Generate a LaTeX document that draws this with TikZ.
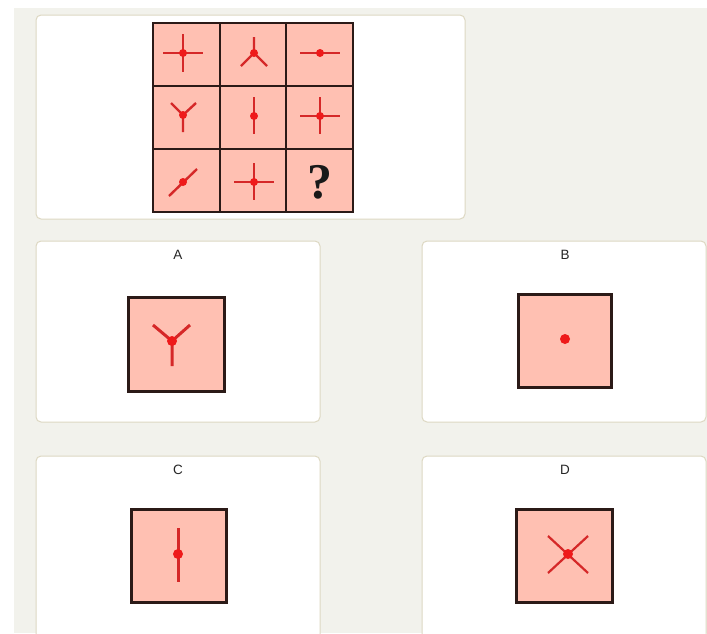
\documentclass[tikz,border=0pt]{standalone}
\usepackage{fontspec}
\setmainfont{Liberation Sans}
\newfontfamily\qfont{Liberation Serif}
\definecolor{bggray}{HTML}{F2F2EC}
\definecolor{panelborder}{HTML}{DDD8C2}
\definecolor{cellfill}{HTML}{FFC0B2}
\definecolor{symred}{HTML}{D52828}
\definecolor{dotred}{HTML}{EE1A1A}
\definecolor{gridline}{HTML}{2B1A17}
\tikzset{
 panel/.style={draw=panelborder, fill=white, rounded corners=5pt, line width=1pt},
 cellbox/.style={draw=gridline, fill=cellfill, line width=1.8pt},
 optbox/.style={draw=gridline, fill=cellfill, line width=3pt},
 arm/.style={draw=symred, line width=2.4pt},
 optarm/.style={draw=symred, line width=3pt},
 thinoptarm/.style={draw=symred, line width=2.2pt},
 dotsm/.style={circle, fill=dotred, inner sep=0pt, minimum size=8pt},
 dotlg/.style={circle, fill=dotred, inner sep=0pt, minimum size=10pt},
 lbl/.style={font=\fontsize{13.5}{13.5}\selectfont, text=black!85, inner sep=0pt},
 qmark/.style={font=\qfont\bfseries\fontsize{50}{50}\selectfont, text=black!90, inner sep=0pt}
}
\begin{document}
\begin{tikzpicture}[x=1pt,y=-1pt]
\useasboundingbox (0,0) rectangle (707,633);
\clip (0,0) rectangle (707,633);
\fill[white] (0,0) rectangle (707,633);
\fill[bggray] (14,8) rectangle (707,633);
% panels
\draw[panel] (36,15) rectangle (465,219);
\draw[panel] (36,241) rectangle (320,422);
\draw[panel] (422,241) rectangle (706,422);
\draw[panel] (36,456) rectangle (320,650);
\draw[panel] (422,456) rectangle (706,650);
% grid
\fill[cellfill] (153,23) rectangle (353,212);
\draw[gridline, line width=1.8pt] (153,23) rectangle (353,212);
\draw[gridline, line width=1.8pt] (219.7,23) -- (219.7,212) (286.3,23) -- (286.3,212)
  (153,86) -- (353,86) (153,149) -- (353,149);
% row 1
\draw[arm] (163,53) -- (203,53) (183,34) -- (183,72);
\node[dotsm] (c11) at (183,53) {};
\draw[arm] (254,53) -- (254,37) (254,53) -- (241,66) (254,53) -- (267,66);
\node[dotsm] (c12) at (254,53) {};
\draw[arm] (300,53) -- (340,53);
\node[dotsm] (c13) at (320,53) {};
% row 2
\draw[arm] (183,115) -- (183,132) (183,115) -- (171,103) (183,115) -- (196,103);
\node[dotsm] (c21) at (183,115) {};
\draw[arm] (254,97) -- (254,134);
\node[dotsm] (c22) at (254,116) {};
\draw[arm] (300,116) -- (340,116) (320,97) -- (320,134);
\node[dotsm] (c23) at (320,116) {};
% row 3
\draw[arm] (169,196) -- (197,169);
\node[dotsm] (c31) at (183,182) {};
\draw[arm] (234,182) -- (274,182) (254,163) -- (254,200);
\node[dotsm] (c32) at (254,182) {};
\node[qmark] (q) at (320,182) {?};
% option A
\node[lbl] (la) at (178,255) {A};
\draw[optbox] (128,297) rectangle (224,391);
\draw[optarm] (172,341) -- (172,366) (172,341) -- (153,325) (172,341) -- (190,325);
\node[dotlg] (da) at (172,341) {};
% option B
\node[lbl] (lb) at (565,255) {B};
\draw[optbox] (518,294) rectangle (611,387);
\node[dotlg] (db) at (565,339) {};
% option C
\node[lbl] (lc) at (178,470) {C};
\draw[optbox] (131,509) rectangle (226,602);
\draw[optarm] (178,528) -- (178,582);
\node[dotlg] (dc) at (178,554) {};
% option D
\node[lbl] (ld) at (565,470) {D};
\draw[optbox] (516,509) rectangle (612,602);
\draw[thinoptarm] (548,536) -- (588,573) (588,536) -- (548,573);
\node[dotlg] (dd) at (568,554) {};
\end{tikzpicture}
\end{document}
